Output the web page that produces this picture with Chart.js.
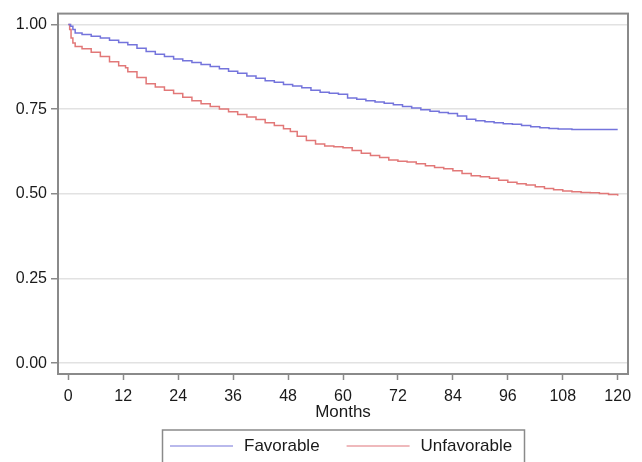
<!DOCTYPE html>
<html>
<head>
<meta charset="utf-8">
<script src="https://cdn.jsdelivr.net/npm/chart.js@4.4.1/dist/chart.umd.min.js"></script>
<style>
  html, body { margin: 0; padding: 0; background: #fff; }
  #wrap { width: 642px; height: 462px; }
</style>
</head>
<body>
<div id="wrap"><canvas id="chart" width="642" height="462"></canvas></div>
<script>
// Survival curves (month, probability)
const favMonths = [0, 0.5, 1, 1.5, 3, 5, 7, 9, 11, 13, 15, 17, 19, 21, 23, 25, 27, 29, 31, 33, 35, 37, 39, 41, 43, 45, 47, 49, 51, 53, 55, 57, 59, 61, 63, 65, 67, 69, 71, 73, 75, 77, 79, 81, 83, 85, 87, 89, 91, 93, 95, 97, 99, 101, 103, 105, 107, 110, 120];
const favValues = [1.000, 0.995, 0.985, 0.975, 0.970, 0.965, 0.960, 0.953, 0.947, 0.940, 0.930, 0.920, 0.912, 0.905, 0.898, 0.893, 0.888, 0.882, 0.876, 0.869, 0.862, 0.856, 0.848, 0.841, 0.834, 0.829, 0.823, 0.818, 0.813, 0.806, 0.800, 0.797, 0.794, 0.783, 0.779, 0.775, 0.771, 0.767, 0.763, 0.758, 0.753, 0.748, 0.744, 0.740, 0.737, 0.730, 0.720, 0.716, 0.713, 0.710, 0.707, 0.705, 0.702, 0.698, 0.695, 0.693, 0.691, 0.690, 0.690];

const unfMonths = [0, 0.3, 0.6, 1, 1.5, 3, 5, 7, 9, 11, 12.5, 13, 15, 17, 19, 21, 23, 25, 27, 29, 31, 33, 35, 37, 39, 41, 43, 45, 47, 48.5, 50, 52, 54, 56, 58, 60, 62, 64, 66, 68, 70, 72, 74, 76, 78, 80, 82, 84, 86, 88, 90, 92, 94, 96, 98, 100, 102, 104, 106, 108, 110, 112, 114, 116, 118, 120];
const unfValues = [1.000, 0.985, 0.960, 0.945, 0.935, 0.928, 0.918, 0.905, 0.890, 0.878, 0.872, 0.860, 0.843, 0.825, 0.815, 0.806, 0.796, 0.785, 0.775, 0.766, 0.758, 0.750, 0.742, 0.734, 0.727, 0.719, 0.710, 0.702, 0.692, 0.684, 0.670, 0.657, 0.647, 0.641, 0.639, 0.636, 0.628, 0.620, 0.613, 0.607, 0.600, 0.596, 0.594, 0.589, 0.583, 0.578, 0.574, 0.568, 0.560, 0.553, 0.550, 0.546, 0.540, 0.534, 0.530, 0.526, 0.521, 0.516, 0.512, 0.508, 0.506, 0.504, 0.503, 0.501, 0.498, 0.494];

const xTicks = [0, 12, 24, 36, 48, 60, 72, 84, 96, 108, 120];
const yTicks = [0, 0.25, 0.5, 0.75, 1];
const seriesNames = ['Favorable', 'Unfavorable'];

const FONT = "'Liberation Sans', Arial, sans-serif";
const BLUE = '#7474dc';
const RED = '#e27878';

function toPoints(xs, ys) {
    return xs.map((m, i) => ({ x: m, y: ys[i] }));
}

// frame round the plot area
const framePlugin = {
    id: 'frame',
    afterDraw(chart) {
        const { ctx, chartArea: a } = chart;
        ctx.save();
        ctx.strokeStyle = '#8a8a8a';
        ctx.lineWidth = 2;
        ctx.strokeRect(a.left, a.top, a.right - a.left, a.bottom - a.top);
        ctx.restore();
    }
};

// boxed legend under the axis title
const boxLegend = {
    id: 'boxLegend',
    afterDraw(chart) {
        const { ctx } = chart;
        const sets = chart.data.datasets;
        ctx.save();
        ctx.strokeStyle = '#8a8a8a';
        ctx.lineWidth = 1.5;
        ctx.strokeRect(162.5, 430, 362, 40);
        ctx.font = '17px ' + FONT;
        ctx.textBaseline = 'middle';
        ctx.fillStyle = '#1a1a1a';
        let x = 170;
        const y = 446;
        sets.forEach((ds) => {
            ctx.strokeStyle = ds.legendColor;
            ctx.lineWidth = 1.5;
            ctx.beginPath();
            ctx.moveTo(x, y);
            ctx.lineTo(x + 63, y);
            ctx.stroke();
            ctx.fillText(ds.label, x + 74, y);
            x += 74 + ctx.measureText(ds.label).width + 27;
        });
        ctx.restore();
    }
};

const config = {
    type: 'line',
    data: {
        datasets: [
            {
                label: seriesNames[0],
                data: toPoints(favMonths, favValues),
                borderColor: BLUE,
                legendColor: '#a2a2e6',
                borderWidth: 1.5,
                stepped: true,
                pointRadius: 0,
                fill: false
            },
            {
                label: seriesNames[1],
                data: toPoints(unfMonths, unfValues),
                borderColor: RED,
                legendColor: '#eaa2a6',
                borderWidth: 1.5,
                stepped: true,
                pointRadius: 0,
                fill: false
            }
        ]
    },
    options: {
        responsive: false,
        animation: false,
        layout: {
            padding: { left: 0, right: 14, top: 9, bottom: 38 }
        },
        plugins: {
            legend: { display: false },
            tooltip: { enabled: false }
        },
        scales: {
            x: {
                type: 'linear',
                min: -2.25,
                max: 122.25,
                afterBuildTicks: (scale) => { scale.ticks = xTicks.map(v => ({ value: v })); },
                afterFit: (scale) => { scale.height = 50; },
                grid: {
                    drawOnChartArea: false,
                    drawTicks: true,
                    tickLength: 6,
                    tickColor: '#8a8a8a',
                    tickWidth: 1.5
                },
                border: { display: false },
                ticks: {
                    color: '#1a1a1a',
                    padding: 7,
                    maxRotation: 0,
                    autoSkip: false,
                    font: { family: FONT, size: 16 }
                },
                title: {
                    display: true,
                    text: 'Months',
                    color: '#1a1a1a',
                    padding: { top: 0, bottom: 1 },
                    font: { family: FONT, size: 17 }
                }
            },
            y: {
                min: -0.032,
                max: 1.032,
                afterBuildTicks: (scale) => { scale.ticks = yTicks.map(v => ({ value: v })); },
                afterFit: (scale) => { scale.width = 58; },
                grid: {
                    color: '#e2e2e2',
                    lineWidth: 1.5,
                    tickLength: 7,
                    tickColor: '#8a8a8a',
                    tickWidth: 1.5
                },
                border: { display: false },
                ticks: {
                    color: '#1a1a1a',
                    padding: 4,
                    autoSkip: false,
                    font: { family: FONT, size: 16 },
                    callback: (v) => v.toFixed(2)
                }
            }
        }
    },
    plugins: [framePlugin, boxLegend]
};

new Chart(document.getElementById('chart').getContext('2d'), config);
</script>
</body>
</html>
